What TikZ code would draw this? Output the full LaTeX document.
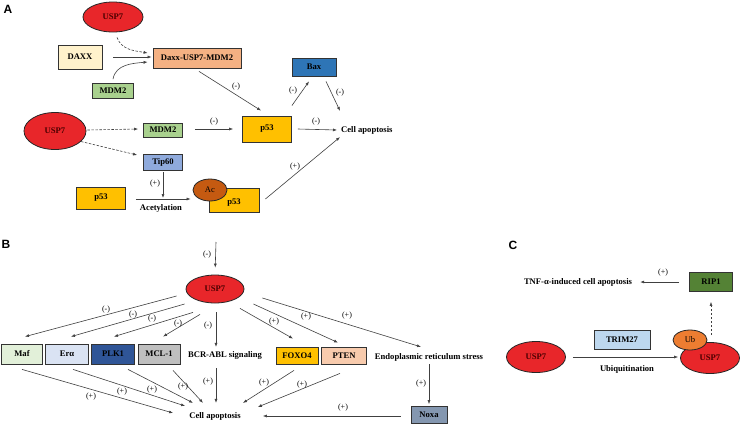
\documentclass[tikz,border=0pt]{standalone}
\usepackage{fontspec}
\setmainfont{Liberation Serif}
\newfontfamily\panelfont{Liberation Sans}
\usetikzlibrary{arrows.meta,calc,shapes.geometric}
\definecolor{uspred}{HTML}{E8262A}
\definecolor{usptext}{HTML}{4A0000}
\definecolor{daxxc}{HTML}{FFF2CC}
\definecolor{dumc}{HTML}{F4B183}
\definecolor{mdmc}{HTML}{A9D18E}
\definecolor{baxc}{HTML}{2E75B6}
\definecolor{p53c}{HTML}{FFC000}
\definecolor{tipc}{HTML}{8FAADC}
\definecolor{acc}{HTML}{C55A11}
\definecolor{mafc}{HTML}{E2F0D9}
\definecolor{erac}{HTML}{DAE3F3}
\definecolor{plkc}{HTML}{2F5597}
\definecolor{mclc}{HTML}{BFBFBF}
\definecolor{ptenc}{HTML}{F8CBAD}
\definecolor{noxac}{HTML}{8497B0}
\definecolor{ripc}{HTML}{548235}
\definecolor{trimc}{HTML}{BDD7EE}
\definecolor{ubc}{HTML}{ED7D31}
\definecolor{linec}{HTML}{404040}
\tikzset{
  base/.style={font=\fontsize{8.6}{10}\selectfont\bfseries, inner sep=0pt},
  gbox/.style={base, draw=black!80, line width=0.8pt, rectangle},
  uspell/.style={base, draw=black!85, line width=0.8pt, ellipse, fill=uspred, text=usptext},
  smallell/.style={draw=black!85, line width=0.8pt, ellipse, inner sep=0pt, font=\fontsize{8.6}{10}\selectfont},
  txt/.style={base},
  lbl/.style={font=\fontsize{8}{9}\selectfont, inner sep=0pt},
  panel/.style={font=\panelfont\fontsize{12}{14}\selectfont\bfseries, inner sep=0pt},
  arr/.style={draw=linec, line width=0.6pt, -{Latex[length=4pt,width=3pt]}},
  darr/.style={arr, dashed, dash pattern=on 2.5pt off 1.5pt},
}
\begin{document}
\begin{tikzpicture}[x=1pt,y=-1pt]
\useasboundingbox (0,0) rectangle (741,424);
\fill[white] (0,0) rectangle (741,424);
% ---------------- Panel A ----------------
\node[panel] (pA) at (8,9) {A};
\node[uspell, minimum width=60pt, minimum height=30pt] (usp7a) at (113,17) {USP7};
\node[gbox, fill=daxxc, minimum width=44pt, minimum height=24pt] (daxx) at (80,57) {DAXX};
\node[gbox, fill=dumc, minimum width=88pt, minimum height=20pt] (dum) at (197,58) {Daxx-USP7-MDM2};
\node[gbox, fill=mdmc, minimum width=41pt, minimum height=15pt] (mdm2a) at (113,91) {MDM2};
\node[gbox, fill=baxc, minimum width=44pt, minimum height=18pt] (bax) at (314,67) {Bax};
\node[uspell, minimum width=62pt, minimum height=37pt] (usp7b) at (55,131) {USP7};
\node[gbox, fill=mdmc, minimum width=39pt, minimum height=14pt] (mdm2b) at (163,130) {MDM2};
\node[gbox, fill=p53c, minimum width=49pt, minimum height=26pt] (p53a) at (267,129) {p53};
\node[txt, anchor=west] (capA) at (341,130) {Cell apoptosis};
\node[gbox, fill=tipc, minimum width=39pt, minimum height=16pt] (tip60) at (163,162) {Tip60};
\node[gbox, fill=p53c, minimum width=49pt, minimum height=22pt] (p53b) at (101,198) {p53};
\node[gbox, fill=p53c, minimum width=50pt, minimum height=24pt, text depth=0pt] (p53cc) at (234,200) {\raisebox{-2.5pt}{p53}};
\node[smallell, fill=acc, minimum width=34pt, minimum height=22pt] (ac) at (210,190) {Ac};
\node[txt] (acet) at (161,208) {Acetylation};
\coordinate (acetpt) at (163,198);

\draw[darr] ($(usp7a.south)+(4,5)$) to[out=-70,in=170] ($(dum.west)+(-5,-5)$);
\draw[arr] ($(daxx.east)+(11,0)$) -- ($(dum.west)+(-1,-1)$);
\draw[arr] ($(mdm2a.north)+(0,-4)$) to[out=80,in=185] ($(dum.west)+(-5,4)$);
\draw[arr] ($(dum.south)+(2,3)$) -- ($(p53a.north west)+(19,-5)$);
\node[lbl] (l1) at (236,87) {(-)};
\draw[arr] ($(p53a.north east)+(0,-10)$) -- ($(bax.south)+(-5,5)$);
\node[lbl] (l2) at (293,91) {(-)};
\draw[arr] ($(bax.south)+(12,5)$) -- ($(capA.north west)+(-1,-15)$);
\node[lbl] (l3) at (340,93) {(-)};
\draw[darr] ($(usp7b.east)+(1,-1)$) -- ($(mdm2b.west)+(-5,-1)$);
\draw[arr] ($(mdm2b.east)+(12,-1)$) -- ($(p53a.west)+(-9,0)$);
\node[lbl] (l4) at (214,122) {(-)};
\draw[arr] ($(p53a.east)+(6,0)$) -- ($(capA.west)+(-4,0)$);
\node[lbl] (l5) at (316,122) {(-)};
\draw[darr] (usp7b.-22) -- ($(tip60.west)+(-6,-7)$);
\draw[arr, shorten <=2pt] (tip60.south) -- (acetpt);
\node[lbl] (l6) at (155,184) {(+)};
\draw[arr] ($(p53b.east)+(10,1)$) -- ($(p53cc.west)+(-18,-1)$);
\draw[arr] ($(p53cc.east)+(6,-1)$) -- ($(capA.south west)+(-1,3)$);
\node[lbl] (l7) at (295,167) {(+)};

% ---------------- Panel B ----------------
\node[panel] (pB) at (6,244) {B};
\node[uspell, minimum width=58pt, minimum height=28pt] (usp7c) at (215,289) {USP7};
\coordinate (btop) at (216,242);
\draw[arr, shorten >=7pt] (btop) -- (usp7c.north);
\node[lbl] (b0) at (207,255) {(-)};
\node[gbox, fill=mafc, minimum width=41pt, minimum height=20pt] (maf) at (22,354) {Maf};
\node[gbox, fill=erac, minimum width=43pt, minimum height=20pt] (era) at (67,354) {Erα};
\node[gbox, fill=plkc, minimum width=43pt, minimum height=20pt] (plk1) at (113,354) {PLK1};
\node[gbox, fill=mclc, minimum width=42pt, minimum height=20pt] (mcl1) at (159,354) {MCL-1};
\node[txt] (bcr) at (225,355) {BCR-ABL signaling};
\node[gbox, fill=p53c, minimum width=42pt, minimum height=17pt] (foxo4) at (297,355.5) {FOXO4};
\node[gbox, fill=ptenc, minimum width=45pt, minimum height=17pt] (pten) at (344,355.5) {PTEN};
\node[txt] (ers) at (429,357) {Endoplasmic reticulum stress};
\node[gbox, fill=noxac, minimum width=36pt, minimum height=17pt] (noxa) at (429,415) {Noxa};
\node[txt] (capB) at (215,416) {Cell apoptosis};

\draw[arr] ($(usp7c.west)+(-9,7)$) -- ($(maf.north)+(3,-7)$);
\node[lbl] (b1) at (106,310) {(-)};
\draw[arr] ($(usp7c.west)+(-1,15)$) -- ($(era.north)+(4,-7)$);
\node[lbl] (b2) at (133,315) {(-)};
\draw[arr] ($(usp7c.south)+(-22,9)$) -- ($(plk1.north)+(1,-7)$);
\node[lbl] (b3) at (152,319) {(-)};
\draw[arr] ($(usp7c.south)+(-15,11)$) -- ($(mcl1.north)+(4,-7)$);
\node[lbl] (b4) at (178,324) {(-)};
\draw[arr] ($(usp7c.south)+(1,9)$) -- ($(bcr.north)+(-9,-4)$);
\node[lbl] (b5) at (208,326) {(-)};
\draw[arr] ($(usp7c.south)+(25,5)$) -- ($(foxo4.north)+(-4,-8)$);
\node[lbl] (b6) at (274,322) {(+)};
\draw[arr] ($(usp7c.east)+(9,15)$) -- ($(pten.north)+(-6,-4)$);
\node[lbl] (b7) at (306,317) {(+)};
\draw[arr] ($(usp7c.east)+(18,9)$) -- ($(ers.north)+(-8,-6)$);
\node[lbl] (b8) at (347,316) {(+)};

\draw[arr] ($(maf.south)+(0,5)$) -- ($(capB.west)+(-16,-3)$);
\node[lbl] (c1) at (91,397) {(+)};
\draw[arr] ($(era.south)+(6,5)$) -- ($(capB.west)+(-4,-10)$);
\node[lbl] (c2) at (122,392) {(+)};
\draw[arr] ($(plk1.south)+(15,5)$) -- ($(capB.north)+(-22,-9)$);
\node[lbl] (c3) at (152,390) {(+)};
\draw[arr] ($(mcl1.south)+(14,6)$) -- ($(capB.north)+(-12,-9)$);
\node[lbl] (c4) at (183,387) {(+)};
\draw[arr] ($(bcr.south)+(-9,9)$) -- ($(capB.north)+(1,-9)$);
\node[lbl] (c5) at (208,382) {(+)};
\draw[arr] ($(foxo4.south)+(-3,6)$) -- ($(capB.north)+(28,-9)$);
\node[lbl] (c6) at (264,383) {(+)};
\draw[arr] ($(pten.south)+(-4,9)$) -- ($(capB.east)+(17,-9)$);
\node[lbl] (c7) at (302,385) {(+)};
\draw[arr] ($(noxa.west)+(-10,1)$) -- ($(capB.east)+(22,0)$);
\node[lbl] (c8) at (343,408) {(+)};
\draw[arr] ($(ers.south)+(0,3)$) -- ($(noxa.north)+(0,-2)$);
\node[lbl] (c9) at (421,384) {(+)};

% ---------------- Panel C ----------------
\node[panel] (pC) at (513,245) {C};
\node[txt] (capC) at (578,282) {TNF-α-induced cell apoptosis};
\node[gbox, fill=ripc, minimum width=43pt, minimum height=19pt] (rip1) at (711,282) {RIP1};
\node[gbox, fill=trimc, minimum width=56pt, minimum height=19pt] (trim27) at (622,340) {TRIM27};
\node[uspell, minimum width=59pt, minimum height=31pt] (usp7d) at (536,357) {USP7};
\node[uspell, minimum width=59pt, minimum height=31pt] (usp7e) at (710,358) {USP7};
\node[smallell, fill=ubc, minimum width=34pt, minimum height=20pt] (ub) at (690,340) {Ub};
\node[txt] (ubq) at (627,369) {Ubiquitination};
\draw[arr] ($(rip1.west)+(-10,0)$) -- ($(capC.east)+(8,0)$);
\node[lbl] (d1) at (663,273) {(+)};
\draw[darr] ($(usp7e.north)+(1,-7)$) -- ($(rip1.south)+(0,10)$);
\draw[arr] ($(usp7d.east)+(7,0)$) -- ($(usp7e.west)+(-2,-1)$);
\end{tikzpicture}
\end{document}
